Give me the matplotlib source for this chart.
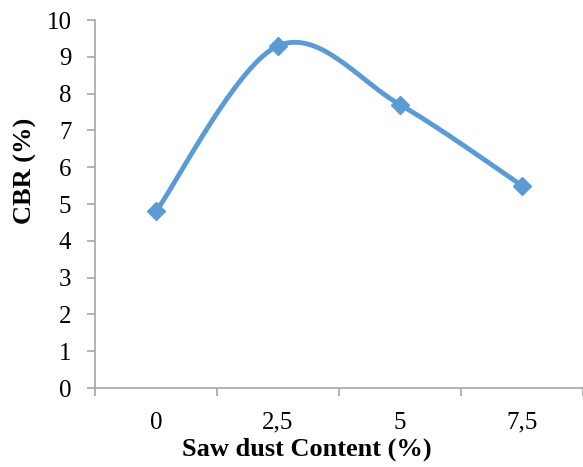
import matplotlib.pyplot as plt
import numpy as np

# CBR test results for soil mixed with saw dust
categories = ["0", "2,5", "5", "7,5"]
cbr = [4.8, 9.3, 7.7, 5.5]

line_color = "#5B9BD5"
axis_color = "#A6A6A6"


def smooth_curve(xs, ys, n=60):
    # Bezier smoothing through every point (same idea as spreadsheet "smoothed line")
    pts = np.column_stack([xs, ys]).astype(float)
    padded = np.vstack([pts[0], pts, pts[-1]])
    out = []
    for i in range(len(pts) - 1):
        p0, p1, p2, p3 = padded[i], padded[i + 1], padded[i + 2], padded[i + 3]
        c1 = p1 + (p2 - p0) / 6.0
        c2 = p2 - (p3 - p1) / 6.0
        t = np.linspace(0, 1, n)[:, None]
        seg = ((1 - t) ** 3) * p1 + 3 * ((1 - t) ** 2) * t * c1 + 3 * (1 - t) * t ** 2 * c2 + t ** 3 * p2
        out.append(seg if i == 0 else seg[1:])
    out = np.vstack(out)
    return out[:, 0], out[:, 1]


plt.rcParams['font.family'] = ['Liberation Serif', 'DejaVu Serif']

fig = plt.figure(figsize=(5.83, 4.67), dpi=100)
ax = fig.add_axes([0.163, 0.169, 0.837, 0.788])

x = np.arange(len(categories))
sx, sy = smooth_curve(x, cbr)
ax.plot(sx, sy, color=line_color, linewidth=3.5, solid_capstyle='round', zorder=3)
ax.plot(x, cbr, linestyle='none', marker='D', markersize=9,
        color=line_color, zorder=4)

ax.set_xlim(-0.5, len(categories) - 0.5)
ax.set_ylim(0, 10)
ax.set_yticks(np.arange(0, 11, 1))

# categories sit between tick marks
ax.set_xticks(np.arange(-0.5, len(categories), 1))
ax.set_xticklabels([])
ax.set_xticks(x, minor=True)
ax.set_xticklabels(categories, minor=True)
ax.tick_params(axis='x', which='minor', length=0, pad=17, labelsize=18)
ax.tick_params(axis='x', which='major', length=6, color=axis_color, width=1.2)
ax.tick_params(axis='y', length=6, color=axis_color, width=1.2, labelsize=18, pad=11)

for side in ['top', 'right']:
    ax.spines[side].set_visible(False)
for side in ['left', 'bottom']:
    ax.spines[side].set_color(axis_color)
    ax.spines[side].set_linewidth(1.2)

ax.set_xlabel("Saw dust Content (%)", fontsize=19, fontweight='bold')
ax.xaxis.set_label_coords(0.434, -0.135)
ax.set_ylabel("CBR (%)", fontsize=19, fontweight='bold')
ax.yaxis.set_label_coords(-0.118, 0.59)

fig.savefig("out.png", dpi=100)
